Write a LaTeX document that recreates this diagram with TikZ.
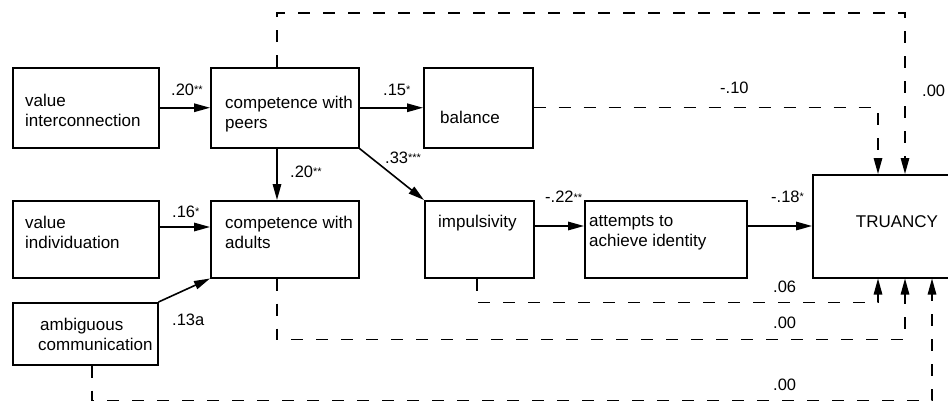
\documentclass[tikz,border=0pt]{standalone}
\usepackage{fontspec}
\setmainfont{Liberation Sans}
\usetikzlibrary{arrows.meta,calc}
\newcommand{\sig}[1]{\raisebox{0.2ex}{\fontsize{11}{11}\selectfont #1}}
\begin{document}
\begin{tikzpicture}[x=1pt,y=-1pt,
  box/.style={draw,line width=1.5pt,inner sep=0pt,anchor=north west},
  txt/.style={align=left,inner sep=0pt,anchor=west,font=\fontsize{17}{20}\selectfont},
  lbl/.style={inner sep=0pt,anchor=west,font=\fontsize{16.5}{20}\selectfont},
  sol/.style={line width=1.6pt,-{Triangle[length=16pt,width=8.5pt]}},
  dsh/.style={line width=1.4pt,dash pattern=on 12pt off 13pt,-{Triangle[length=16pt,width=8.5pt]}}
]
\useasboundingbox (0,0) rectangle (948,402);

% boxes
\node[box,minimum width=146pt,minimum height=80pt] (vi) at (12,67) {};
\node[box,minimum width=148pt,minimum height=80pt] (peers) at (210,67) {};
\node[box,minimum width=109pt,minimum height=80pt] (bal) at (423,67) {};
\node[box,minimum width=146pt,minimum height=77pt] (vind) at (12,200) {};
\node[box,minimum width=148pt,minimum height=77pt] (adu) at (210,200) {};
\node[box,minimum width=145pt,minimum height=62pt] (amb) at (12,302) {};
\node[box,minimum width=109pt,minimum height=77pt] (imp) at (424,200) {};
\node[box,minimum width=162pt,minimum height=77pt] (att) at (584,200) {};
\node[box,minimum width=140pt,minimum height=103pt] (tru) at (812,174) {};

% box texts
\node[txt] (t-vi) at (25,110) {value\\interconnection};
\node[txt] (t-peers) at (225,114) {competence with\\peers};
\node[txt] (t-bal) at (440,117) {balance};
\node[txt] (t-vind) at (25,232) {value\\individuation};
\node[txt] (t-adu) at (225,232) {competence with\\adults};
\node[txt] (t-amb) at (38,334) {\hspace{2pt}ambiguous\\communication};
\node[txt] (t-imp) at (438,223) {impulsivity};
\node[txt] (t-att) at (589,233) {attempts to\\achieve identity};
\node[txt,anchor=center] (t-tru) at (897,222) {TRUANCY};

% solid paths
\draw[sol] (vi.east) -- (peers.west);
\draw[sol] (peers.east) -- (bal.west);
\draw[sol] (277,0 |- peers.south) -- (277,0 |- adu.north);
\draw[sol] (peers.south east) -- (imp.north west);
\draw[sol] (vind.east |- 0,227) -- (adu.west |- 0,227);
\draw[sol] (amb.north east) -- (adu.south west);
\draw[sol] (imp.east |- 0,226) -- (att.west |- 0,226);
\draw[sol] (att.east |- 0,226) -- (tru.west |- 0,226);

% dashed paths
\draw[dsh] (277,0 |- peers.north) -- ++(0,-54) -| (905,0 |- tru.north);
\draw[dsh] (bal.east) -| (878,0 |- tru.north);
\draw[dsh] (477,0 |- imp.south) -- ++(0,24) -| (878,0 |- tru.south);
\draw[dsh] (277,0 |- adu.south) -- ++(0,61) -| (905,0 |- tru.south);
\draw[dsh] (92,0 |- amb.south) -- ++(0,35) -| (932,0 |- tru.south);

% labels
\node[lbl] (l1) at (171,90) {.20\sig{**}};
\node[lbl] (l2) at (383,90) {.15\sig{*}};
\node[lbl] (l3) at (290,172) {.20\sig{**}};
\node[lbl] (l4) at (385,158) {.33\sig{***}};
\node[lbl] (l5) at (172,212) {.16\sig{*}};
\node[lbl] (l6) at (172,320) {.13a};
\node[lbl] (l7) at (545,197) {-.22\sig{**}};
\node[lbl] (l8) at (771,197) {-.18\sig{*}};
\node[lbl] (l9) at (720,88) {-.10};
\node[lbl] (l10) at (922,91) {.00};
\node[lbl] (l11) at (773,287) {.06};
\node[lbl] (l12) at (773,323) {.00};
\node[lbl] (l13) at (773,385) {.00};
\end{tikzpicture}
\end{document}
